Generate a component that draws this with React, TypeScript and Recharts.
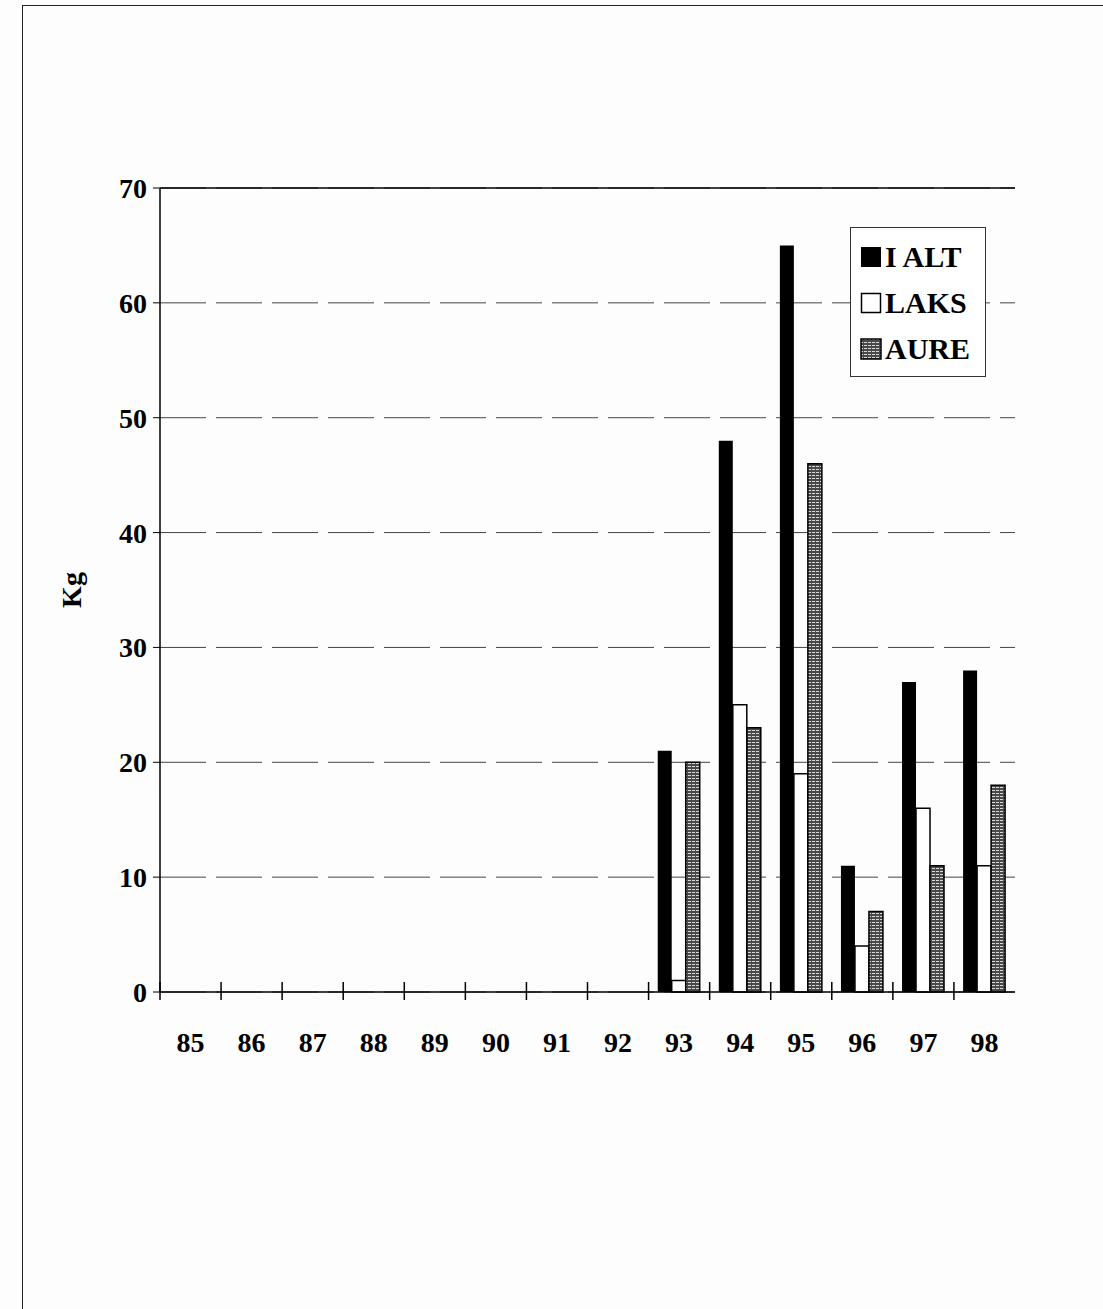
import { BarChart, Bar, XAxis, YAxis, CartesianGrid, Legend, ReferenceLine } from 'recharts';

const years = ['85', '86', '87', '88', '89', '90', '91', '92', '93', '94', '95', '96', '97', '98'];
const iAlt = [0, 0, 0, 0, 0, 0, 0, 0, 21, 48, 65, 11, 27, 28];
const laks = [0, 0, 0, 0, 0, 0, 0, 0, 1, 25, 19, 4, 16, 11];
const aure = [0, 0, 0, 0, 0, 0, 0, 0, 20, 23, 46, 7, 11, 18];
const yTicks = [0, 10, 20, 30, 40, 50, 60, 70];

const data = years.map((y, i) => ({ year: y, iAlt: iAlt[i], laks: laks[i], aure: aure[i] }));

const FONT = '"Liberation Serif", "Times New Roman", serif';
const BAND = 855 / 14;

function YearTick(props: any) {
  const { x, y, payload } = props;
  return (
    <g>
      <line x1={x - BAND / 2} x2={x - BAND / 2} y1={y - 10} y2={y + 8} stroke="#000" strokeWidth={1.5} />
      <text x={x} y={y + 60} textAnchor="middle" fontFamily={FONT} fontWeight="bold" fontSize={28} fill="#000">
        {payload.value}
      </text>
    </g>
  );
}

function Swatch({ kind }: { kind: string }) {
  if (kind === 'iAlt') return <rect x={1} y={1} width={20} height={20} fill="#000" />;
  if (kind === 'laks') return <rect x={1.5} y={1.5} width={19} height={19} fill="#fff" stroke="#000" strokeWidth={1.5} />;
  return <rect x={1} y={1} width={20} height={20} fill="url(#aureHatch)" stroke="#000" strokeWidth={1.5} />;
}

function LegendBox() {
  const items = [
    { key: 'iAlt', label: 'I ALT' },
    { key: 'laks', label: 'LAKS' },
    { key: 'aure', label: 'AURE' },
  ];
  return (
    <div style={{ border: '1.5px solid #333', background: '#fff', width: 136, padding: '6px 0 4px 9px', boxSizing: 'border-box' }}>
      {items.map(it => (
        <div key={it.key} style={{ display: 'flex', alignItems: 'center', height: 46 }}>
          <svg width={22} height={22} style={{ marginRight: 3 }}><Swatch kind={it.key} /></svg>
          <span style={{ fontFamily: FONT, fontWeight: 'bold', fontSize: 30, color: '#000' }}>{it.label}</span>
        </div>
      ))}
    </div>
  );
}

export default function App() {
  return (
    <div style={{ position: 'absolute', left: 0, top: 0, width: 1103, height: 1309, background: '#fdfdfd', overflow: 'hidden' }}>
      <div style={{ position: 'absolute', left: 22, top: 5, width: 1081, height: 1304, borderLeft: '1.5px solid #222', borderTop: '1.5px solid #222' }} />
      <div style={{ position: 'absolute', left: 72, top: 590, transform: 'translate(-50%, -50%) rotate(-90deg)', fontFamily: FONT, fontWeight: 'bold', fontSize: 28 }}>
        Kg
      </div>
      <div style={{ position: 'absolute', left: 0, top: 0 }}>
        <BarChart width={1103} height={1309} data={data} margin={{ top: 188, right: 88, bottom: 0, left: 20 }}
          barCategoryGap="15%" barGap={0}>
          <defs>
            <pattern id="aureHatch" width={4} height={3} patternUnits="userSpaceOnUse">
              <rect width={4} height={3} fill="#4a4a4a" />
              <rect y={1} width={3} height={1} fill="#d8d8d8" />
            </pattern>
          </defs>
          <CartesianGrid vertical={false} stroke="#444" strokeDasharray="46 10" />
          <XAxis dataKey="year" tick={<YearTick />} tickSize={0} tickMargin={0} axisLine={{ stroke: '#000', strokeWidth: 1.5 }}
            tickLine={false} interval={0} height={317} />
          <YAxis domain={[0, 70]} ticks={yTicks} width={140} tickSize={7} tickMargin={6}
            axisLine={{ stroke: '#000', strokeWidth: 1.5 }} tickLine={{ stroke: '#000' }}
            tick={{ fontFamily: FONT, fontWeight: 'bold', fontSize: 28, fill: '#000' }} />
          <YAxis yAxisId="right" orientation="right" width={0} tick={false} tickLine={false}
            axisLine={{ stroke: '#000', strokeWidth: 1.5 }} />
          <ReferenceLine y={70} stroke="#000" strokeWidth={1.5} />
          <Legend layout="horizontal" verticalAlign="middle" align="center" content={<LegendBox />}
            wrapperStyle={{ position: 'absolute', left: 850, top: 227, width: 136 }} />
          <Bar dataKey="iAlt" name="I ALT" fill="#000" isAnimationActive={false} />
          <Bar dataKey="laks" name="LAKS" fill="#fff" stroke="#000" strokeWidth={1.5} isAnimationActive={false} />
          <Bar dataKey="aure" name="AURE" fill="url(#aureHatch)" stroke="#000" strokeWidth={1.5} isAnimationActive={false} />
        </BarChart>
      </div>
    </div>
  );
}
